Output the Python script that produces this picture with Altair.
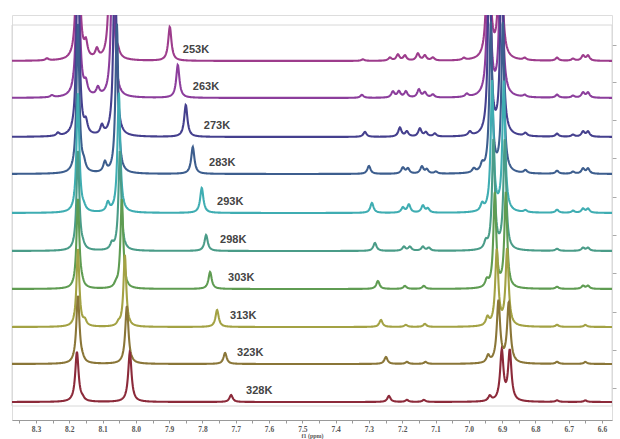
import altair as alt
import numpy as np
import pandas as pd

# ---- data ----
temps = ["253K", "263K", "273K", "283K", "293K", "298K", "303K", "313K", "323K", "328K"]
# vertical offset (intensity units) of each trace's baseline
offsets = [359, 322, 283, 246, 207, 169, 131, 93, 56, 18]
colors = ["#9d3c8c", "#8c3e9c", "#45408e", "#3d5e8e", "#3fadb2",
          "#4a9c88", "#5f9c52", "#a3a244", "#8a7638", "#8c2a3a"]
# label anchor (ppm) for the temperature tags
label_ppm = [7.859, 7.829, 7.796, 7.780, 7.756, 7.747, 7.723, 7.717, 7.696, 7.669]

# peak lists (ppm, height[, half-width]) per spectrum
peaks_253 = [(8.267, 2), (8.174, 200), (8.150, 14), (8.117, 9), (8.075, 200), (8.054, 5),
             (7.898, 34), (7.318, 1.5), (7.237, 3), (7.213, 6), (7.192, 5), (7.153, 7),
             (7.132, 5), (7.108, 3), (7.015, 2), (6.941, 200), (6.905, 200), (6.832, 2),
             (6.735, 3), (6.687, 2), (6.657, 5), (6.642, 5)]
peaks_263 = [(8.252, 2), (8.174, 200), (8.150, 11), (8.114, 8), (8.069, 200), (7.874, 33),
             (7.321, 3), (7.228, 6), (7.210, 6), (7.189, 6), (7.150, 8), (7.132, 5),
             (7.108, 3), (7.006, 3), (6.940, 200), (6.903, 200), (6.832, 2), (6.735, 3),
             (6.687, 2), (6.657, 5), (6.642, 5)]
peaks_273 = [(8.234, 3), (8.174, 200), (8.150, 11), (8.102, 9), (8.063, 200), (7.850, 32),
             (7.312, 5), (7.207, 9), (7.186, 5), (7.147, 8), (7.129, 4), (7.102, 3),
             (6.997, 4), (6.938, 200), (6.901, 200), (6.830, 3), (6.735, 3), (6.687, 2),
             (6.657, 5), (6.642, 5)]
peaks_283 = [(8.174, 150), (8.156, 7), (8.093, 10), (8.057, 150), (7.829, 27), (7.300, 8),
             (7.198, 6), (7.183, 5), (7.141, 7), (7.126, 4), (7.099, 2), (6.985, 4),
             (6.960, 7), (6.934, 150), (6.898, 150), (6.830, 3), (6.735, 3), (6.687, 2),
             (6.657, 5), (6.642, 5)]
peaks_293 = [(8.174, 120), (8.156, 3), (8.084, 9), (8.051, 120), (7.802, 25), (7.291, 10),
             (7.198, 5), (7.180, 8), (7.138, 7), (7.123, 4), (6.960, 7), (6.930, 130),
             (6.895, 130), (6.830, 2), (6.735, 3), (6.687, 2), (6.657, 4), (6.642, 4)]
peaks_298 = [(8.174, 100), (8.159, 3), (8.072, 6), (8.048, 100), (7.789, 16), (7.282, 8),
             (7.195, 4), (7.177, 4), (7.138, 4), (7.120, 3), (6.949, 7), (6.926, 110),
             (6.892, 110), (6.735, 2), (6.657, 3), (6.642, 3)]
peaks_303 = [(8.174, 90), (8.162, 3), (8.060, 3), (8.042, 90), (7.777, 17), (7.273, 8),
             (7.192, 3), (7.135, 3), (6.946, 7), (6.922, 95), (6.889, 95), (6.735, 2),
             (6.657, 3), (6.642, 3)]
peaks_313 = [(8.174, 78), (8.153, 5), (8.052, 3), (8.033, 72), (7.756, 17), (7.264, 7),
             (7.189, 2), (7.132, 3), (6.944, 8), (6.916, 76, 0.0055), (6.885, 76, 0.0055),
             (6.735, 2), (6.650, 2)]
peaks_323 = [(8.174, 68, 0.0058), (8.160, 2), (8.027, 58, 0.0058), (7.732, 11), (7.249, 7),
             (7.186, 2), (7.130, 2), (6.942, 7), (6.911, 62, 0.006), (6.880, 60, 0.006),
             (6.735, 2), (6.650, 2)]
peaks_328 = [(8.177, 50, 0.006), (8.160, 2), (8.018, 50, 0.006), (7.714, 7), (7.240, 6),
             (7.186, 2), (7.135, 2), (6.937, 5), (6.901, 50, 0.006), (6.877, 50, 0.006),
             (6.735, 1.5), (6.650, 1.5)]
peak_lists = [peaks_253, peaks_263, peaks_273, peaks_283, peaks_293,
              peaks_298, peaks_303, peaks_313, peaks_323, peaks_328]

x_ticks = [round(8.35 - 0.05 * k, 2) for k in range(36)]
y_ticks = [375, 338, 300, 262, 223, 185, 147, 108, 70, 32]

# ---- build traces from the peak lists ----
ppm = np.arange(6.570, 8.3725, 0.0012)
frames = []
for t, off, plist in zip(temps, offsets, peak_lists):
    y = np.zeros_like(ppm)
    for p in plist:
        g = p[2] if len(p) > 2 else (0.005 if p[1] >= 40 else 0.0058)
        y += p[1] * g * g / (g * g + (ppm - p[0]) ** 2)
    frames.append(pd.DataFrame({"ppm": ppm, "v": y + off, "T": t}))

x_enc = alt.X(
    "ppm:Q",
    scale=alt.Scale(domain=[6.570, 8.372], reverse=True, nice=False, zero=False),
    axis=alt.Axis(values=x_ticks,
                  labelExpr="abs(datum.value*10 - round(datum.value*10)) < 0.01 ? format(datum.value, '.1f') : ''",
                  title="f1 (ppm)", titleFont="Liberation Serif", titleFontSize=6,
                  titleFontWeight="bold", titleColor="#555", titlePadding=0,
                  labelFont="Liberation Serif", labelFontWeight="bold", labelFontSize=7.5,
                  labelColor="#555", labelPadding=2, labelFlush=False,
                  domainColor="#999", tickColor="#999", tickSize=3, grid=False),
)
y_enc = alt.Y(
    "v:Q",
    scale=alt.Scale(domain=[0, 405], nice=False, zero=False),
    axis=alt.Axis(orient="right", values=y_ticks, labels=False, domain=False,
                  tickSize=4, tickColor="#aaa", grid=False, title=None),
)

frame = alt.Chart(pd.DataFrame({"a": [0]})).mark_rect(
    fill="white", fillOpacity=0, stroke="#d8d8d8", strokeWidth=1
).encode(x=alt.value(0), x2=alt.value(600), y=alt.value(10), y2=alt.value(391))

layers = [frame]
for df, c in zip(frames, colors):
    layers.append(
        alt.Chart(df).mark_line(color=c, strokeWidth=2.1, clip=True, interpolate="linear")
        .encode(x=x_enc, y=y_enc)
    )

labels_df = pd.DataFrame({"ppm": label_ppm, "v": [o + 11 for o in offsets], "T": temps})
labels = alt.Chart(labels_df).mark_text(
    align="left", baseline="middle", font="Liberation Sans", fontWeight="bold",
    fontSize=11, color="#444"
).encode(x=x_enc, y=y_enc, text="T:N")
layers.append(labels)

chart = alt.layer(*layers).properties(
    width=600, height=405,
    autosize=alt.AutoSizeParams(type="none"),
    padding={"left": 12, "top": 15, "right": 8, "bottom": 19},
).configure_view(stroke=None).configure(background="white")

chart.save("out.html", embed_options={"renderer": "svg", "actions": False})
